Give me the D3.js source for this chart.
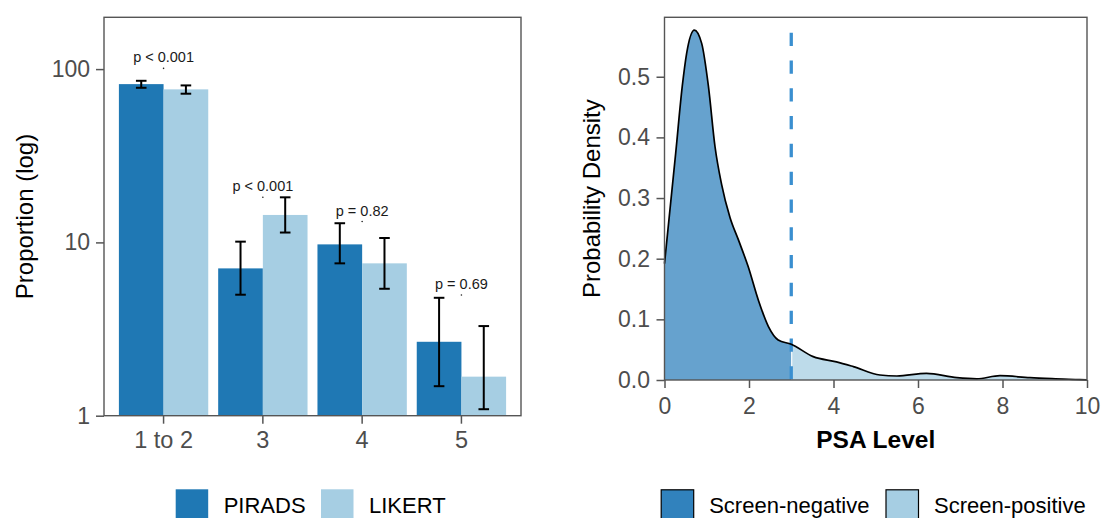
<!DOCTYPE html>
<html>
<head>
<meta charset="utf-8">
<script src="https://cdn.jsdelivr.net/npm/d3@7"></script>
<style>
  body { margin: 0; background: #fff; }
  svg { display: block; font-family: "Liberation Sans", Arial, sans-serif; }
  .tick text { fill: #4d4d4d; }
  .tick line { stroke: #555; stroke-width: 1.5; }
</style>
</head>
<body>
<div id="chart"></div>
<script>
// left panel: proportions by score, log scale
const categories = ["1 to 2", "3", "4", "5"];
const groups = ["PIRADS", "LIKERT"];
const piradsValues = [81.9, 7.08, 9.74, 2.67];
const piradsLower = [78.0, 4.99, 7.57, 1.48];
const piradsUpper = [85.6, 10.1, 12.9, 4.79];
const likertValues = [76.4, 14.4, 7.57, 1.68];
const likertLower = [72.1, 11.4, 5.40, 1.09];
const likertUpper = [80.5, 18.2, 10.6, 3.29];
const pLabels = ["p < 0.001", "p < 0.001", "p = 0.82", "p = 0.69"];
const pLabelAt = [101, 18.2, 13.2, 4.97];
const proportionTicks = [1, 10, 100];

// right panel: PSA density curve
const psaLevel = [0, 0.265, 0.42, 0.525, 0.706, 0.88, 1.04, 1.195, 1.35, 1.55, 1.75, 1.98, 2.22, 2.46, 2.69, 3.0,
  3.52, 4.07, 4.47, 5.1, 5.5, 6.2, 6.92, 7.39, 7.94, 8.65, 9.44, 9.83, 10];
const psaDensity = [0.192, 0.374, 0.484, 0.539, 0.577, 0.555, 0.484, 0.385, 0.323, 0.268, 0.231, 0.187, 0.132, 0.088, 0.066, 0.059,
  0.0385, 0.030, 0.022, 0.0082, 0.0066, 0.011, 0.0038, 0.002, 0.0071, 0.0038, 0.0016, 0.0005, 0.0003];
const psaCutoff = 3;
const psaTicks = [0, 2, 4, 6, 8, 10];
const densityTicks = [0, 0.1, 0.2, 0.3, 0.4, 0.5];
const screenGroups = ["Screen-negative", "Screen-positive"];

const barColor = d3.scaleOrdinal().domain(groups).range(["#1f78b4", "#a6cee3"]);
const screenColor = d3.scaleOrdinal().domain(screenGroups).range(["#3182bd", "#a6cee3"]);

const width = 1102, height = 518;
const svg = d3.select("#chart").append("svg")
    .attr("width", width)
    .attr("height", height);

// ---------- left panel ----------
const left = { x0: 104, x1: 521, y0: 17.3, y1: 415.7 };

const x = d3.scaleBand().domain(categories)
    .range([left.x0, left.x1])
    .paddingInner(0.1).paddingOuter(0.15);
const xSub = d3.scaleBand().domain(groups).range([0, x.bandwidth()]);
const y = d3.scaleLog().domain([1, 199]).range([left.y1, left.y0]);

const rows = categories.map((c, i) => [
  { cat: c, group: "PIRADS", value: piradsValues[i], lo: piradsLower[i], hi: piradsUpper[i] },
  { cat: c, group: "LIKERT", value: likertValues[i], lo: likertLower[i], hi: likertUpper[i] }
]).flat();

svg.append("g").selectAll("rect")
  .data(rows)
  .join("rect")
    .attr("x", d => x(d.cat) + xSub(d.group))
    .attr("y", d => y(d.value))
    .attr("width", xSub.bandwidth())
    .attr("height", d => y(1) - y(d.value))
    .attr("fill", d => barColor(d.group));

const errG = svg.append("g")
    .attr("stroke", "#000")
    .attr("stroke-width", 2);
const cap = 5.3;
rows.forEach(d => {
  const cx = x(d.cat) + xSub(d.group) + xSub.bandwidth() / 2;
  errG.append("line").attr("x1", cx).attr("x2", cx).attr("y1", y(d.lo)).attr("y2", y(d.hi));
  errG.append("line").attr("x1", cx - cap).attr("x2", cx + cap).attr("y1", y(d.lo)).attr("y2", y(d.lo));
  errG.append("line").attr("x1", cx - cap).attr("x2", cx + cap).attr("y1", y(d.hi)).attr("y2", y(d.hi));
});

// p-value annotations
const pG = svg.append("g");
categories.forEach((c, i) => {
  const cx = x(c) + x.bandwidth() / 2;
  pG.append("circle").attr("cx", cx).attr("cy", y(pLabelAt[i])).attr("r", 0.8).attr("fill", "#222");
  pG.append("text")
    .attr("x", cx)
    .attr("y", y(pLabelAt[i]) - 6)
    .attr("text-anchor", "middle")
    .attr("font-size", 14.5)
    .attr("fill", "#1a1a1a")
    .text(pLabels[i]);
});

svg.append("g")
    .attr("transform", `translate(0,${left.y1})`)
    .call(d3.axisBottom(x).tickSize(8).tickPadding(8))
    .call(g => g.select(".domain").remove())
    .call(g => g.selectAll("text").attr("font-size", 23.5).attr("font-family", null));

svg.append("g")
    .attr("transform", `translate(${left.x0},0)`)
    .call(d3.axisLeft(y).tickValues(proportionTicks).tickFormat(d3.format("d")).tickSize(8).tickPadding(6))
    .call(g => g.select(".domain").remove())
    .call(g => g.selectAll("text").attr("font-size", 23).attr("font-family", null));

svg.append("rect")
    .attr("x", left.x0).attr("y", left.y0)
    .attr("width", left.x1 - left.x0).attr("height", left.y1 - left.y0)
    .attr("fill", "none").attr("stroke", "#555").attr("stroke-width", 1.4);

svg.append("text")
    .attr("transform", `translate(33,${(left.y0 + left.y1) / 2}) rotate(-90)`)
    .attr("text-anchor", "middle")
    .attr("font-size", 24)
    .text("Proportion (log)");

// ---------- right panel ----------
const right = { x0: 664.5, x1: 1087, y0: 17.3, y1: 380 };
const px = d3.scaleLinear().domain([0, 10]).range([right.x0, right.x1]);
const py = d3.scaleLinear().domain([0, 0.598]).range([right.y1, right.y0]);

const psa = psaLevel.map((v, i) => ({ x: v, y: psaDensity[i] }));
const area = d3.area().curve(d3.curveMonotoneX)
    .x(d => px(d.x)).y0(py(0)).y1(d => py(d.y));
const line = d3.line().curve(d3.curveMonotoneX)
    .x(d => px(d.x)).y(d => py(d.y));

const defs = svg.append("defs");
defs.append("clipPath").attr("id", "clipNeg")
  .append("rect").attr("x", px(0)).attr("y", 0).attr("width", px(psaCutoff) - px(0)).attr("height", height);
defs.append("clipPath").attr("id", "clipPos")
  .append("rect").attr("x", px(psaCutoff)).attr("y", 0).attr("width", px(10) - px(psaCutoff)).attr("height", height);

svg.append("path").datum(psa)
    .attr("d", area).attr("clip-path", "url(#clipNeg)")
    .attr("fill", screenColor("Screen-negative")).attr("fill-opacity", 0.74);
svg.append("path").datum(psa)
    .attr("d", area).attr("clip-path", "url(#clipPos)")
    .attr("fill", screenColor("Screen-positive")).attr("fill-opacity", 0.74);

// thin seam between the two fills
const cutIdx = psaLevel.indexOf(psaCutoff);
svg.append("line")
    .attr("x1", px(psaCutoff) + 0.5).attr("x2", px(psaCutoff) + 0.5)
    .attr("y1", py(0)).attr("y2", py(psaDensity[cutIdx]))
    .attr("stroke", "#fff").attr("stroke-width", 1);

svg.append("line")
    .attr("x1", px(psaCutoff)).attr("x2", px(psaCutoff))
    .attr("y1", py(0.5727)).attr("y2", py(0))
    .attr("stroke", "#3a8fd0").attr("stroke-width", 3.3)
    .attr("stroke-dasharray", "13.3,14.5");

svg.append("path").datum(psa)
    .attr("d", line)
    .attr("fill", "none").attr("stroke", "#000").attr("stroke-width", 1.7);

svg.append("g")
    .attr("transform", `translate(0,${right.y1})`)
    .call(d3.axisBottom(px).tickValues(psaTicks).tickSize(8).tickPadding(10))
    .call(g => g.select(".domain").remove())
    .call(g => g.selectAll("text").attr("font-size", 23).attr("font-family", null));

svg.append("g")
    .attr("transform", `translate(${right.x0},0)`)
    .call(d3.axisLeft(py).tickValues(densityTicks).tickFormat(d3.format(".1f")).tickSize(8).tickPadding(6.5))
    .call(g => g.select(".domain").remove())
    .call(g => g.selectAll("text").attr("font-size", 23).attr("font-family", null));

svg.append("rect")
    .attr("x", right.x0).attr("y", right.y0)
    .attr("width", right.x1 - right.x0).attr("height", right.y1 - right.y0)
    .attr("fill", "none").attr("stroke", "#555").attr("stroke-width", 1.4);

svg.append("text")
    .attr("transform", `translate(600,${(right.y0 + right.y1) / 2}) rotate(-90)`)
    .attr("text-anchor", "middle")
    .attr("font-size", 24)
    .text("Probability Density");

svg.append("text")
    .attr("x", (right.x0 + right.x1) / 2)
    .attr("y", 448.3)
    .attr("text-anchor", "middle")
    .attr("font-size", 24.5)
    .attr("font-weight", "bold")
    .text("PSA Level");

// ---------- legends ----------
const legendTop = 489.3, keySize = 33.5, textBase = 513.3;

const barLegendX = [175.7, 321];
groups.forEach((g, i) => {
  svg.append("rect")
    .attr("x", barLegendX[i]).attr("y", legendTop)
    .attr("width", keySize - 1).attr("height", keySize)
    .attr("fill", barColor(g));
  svg.append("text")
    .attr("x", barLegendX[i] + keySize + 14.5).attr("y", textBase)
    .attr("font-size", 22)
    .text(g);
});

const screenLegendX = [660.7, 885.5];
screenGroups.forEach((g, i) => {
  svg.append("rect")
    .attr("x", screenLegendX[i] + 0.5).attr("y", legendTop + 0.5)
    .attr("width", keySize - 1).attr("height", keySize)
    .attr("fill", screenColor(g))
    .attr("stroke", "#000").attr("stroke-width", 1.2);
  svg.append("text")
    .attr("x", screenLegendX[i] + keySize + 15).attr("y", textBase)
    .attr("font-size", 22)
    .text(g);
});
</script>
</body>
</html>
